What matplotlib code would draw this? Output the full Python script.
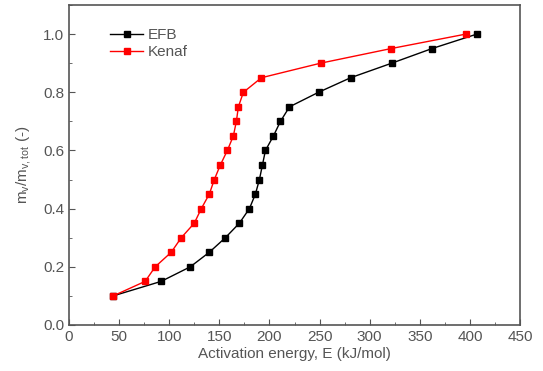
import matplotlib
matplotlib.use('Agg')
import matplotlib.pyplot as plt
from matplotlib.ticker import MultipleLocator

plt.rcParams['font.family'] = ['Liberation Sans', 'DejaVu Sans']
plt.rcParams['mathtext.fontset'] = 'custom'
plt.rcParams['mathtext.rm'] = 'Liberation Sans'
plt.rcParams['mathtext.it'] = 'Liberation Sans'

frac = [0.10, 0.15, 0.20, 0.25, 0.30, 0.35, 0.40, 0.45, 0.50, 0.55,
        0.60, 0.65, 0.70, 0.75, 0.80, 0.85, 0.90, 0.95, 1.00]
efb_E = [44, 92, 121, 140, 156, 170, 180, 186, 190, 193,
         196, 204, 211, 220, 249, 281, 322, 362, 407]
kenaf_E = [44, 76, 86, 102, 112, 125, 132, 140, 145, 151,
           158, 164, 167, 169, 174, 192, 251, 321, 396]

grey = '#555555'

fig = plt.figure(figsize=(5.43, 3.71), dpi=100)
ax = fig.add_axes([69/543, 1 - 325/371, 451/543, 320/371])

ax.plot(efb_E, frac, '-s', color='black', lw=1, ms=4.5, label='EFB')
ax.plot(kenaf_E, frac, '-s', color='red', lw=1, ms=4.5, label='Kenaf')

ax.set_xlim(0, 450)
ax.set_ylim(0, 1.1)
ax.xaxis.set_major_locator(MultipleLocator(50))
ax.xaxis.set_minor_locator(MultipleLocator(25))
ax.yaxis.set_major_locator(MultipleLocator(0.2))
ax.yaxis.set_minor_locator(MultipleLocator(0.1))
ax.yaxis.set_major_formatter(plt.FuncFormatter(lambda v, p: f'{v:.1f}'))

ax.tick_params(which='both', direction='in', top=False, right=False,
               colors=grey, labelsize=11)
ax.tick_params(which='major', length=4)
ax.tick_params(which='minor', length=2.5)
for s in ax.spines.values():
    s.set_color(grey)
    s.set_linewidth(1.2)

ax.set_xlabel('Activation energy, E (kJ/mol)', color=grey, fontsize=11, labelpad=2)
ax.set_ylabel(r'm$_{\rm v}$/m$_{\rm v,tot}$ (-)', color=grey, fontsize=11, labelpad=7)

leg = ax.legend(loc='upper left', frameon=False, fontsize=11,
                handlelength=2.2, handletextpad=0.3, labelspacing=0.2,
                bbox_to_anchor=(0.06, 0.97))
for t in leg.get_texts():
    t.set_color(grey)

fig.savefig('out.png', dpi=100)
